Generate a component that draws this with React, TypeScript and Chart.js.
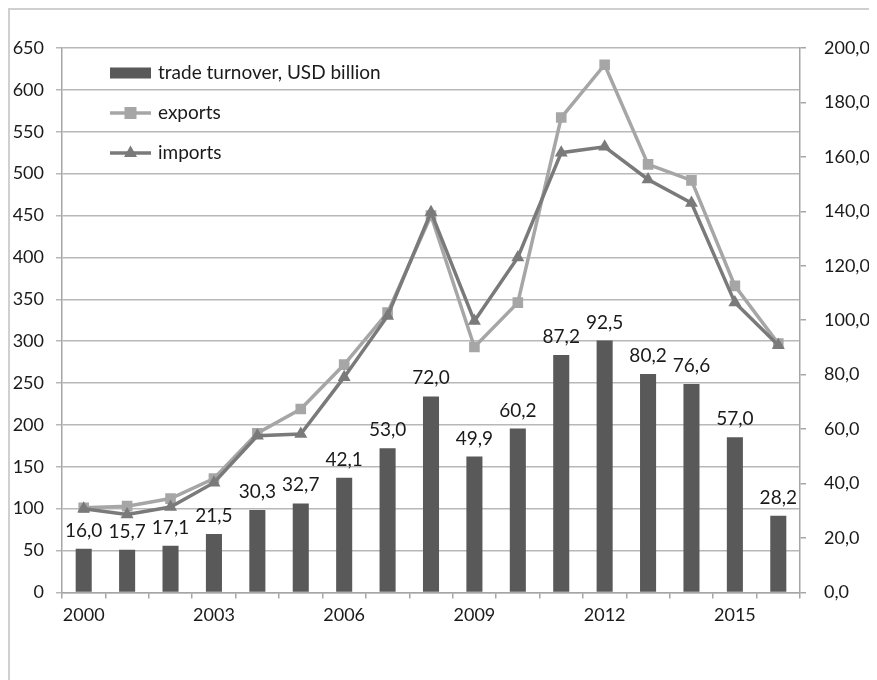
import React, { useEffect, useRef } from "react";
import { Chart, registerables } from "chart.js";

Chart.register(...registerables);

const years = ["2000", "2001", "2002", "2003", "2004", "2005", "2006", "2007", "2008", "2009", "2010", "2011", "2012", "2013", "2014", "2015", "2016"];
const shownYears = ["2000", "2003", "2006", "2009", "2012", "2015"];
const turnover = [16.0, 15.7, 17.1, 21.5, 30.3, 32.7, 42.1, 53.0, 72.0, 49.9, 60.2, 87.2, 92.5, 80.2, 76.6, 57.0, 28.2];
const exportsVals = [101, 103, 112, 136, 190, 219, 272, 334, 450, 293, 346, 567, 630, 511, 492, 366, 297];
const importsVals = [100, 93, 102, 131, 187, 189, 257, 330, 454, 324, 400, 525, 532, 493, 465, 346, 295];
const seriesNames = ["trade turnover, USD billion", "exports", "imports"];

const FONT = "Lato, 'Open Sans', sans-serif";
const TEXT = "#1a1a1a";
const BAR = "#595959";
const EXP = "#a6a6a6";
const IMP = "#7a7a7a";
const AXIS = "#a6a6a6";
const GRID = "#b8b8b8";

const fmt = (v: number) => v.toFixed(1).replace(".", ",");

const barLabels = {
  id: "barLabels",
  afterDatasetsDraw(chart: any) {
    const ctx = chart.ctx;
    const meta = chart.getDatasetMeta(0);
    ctx.save();
    ctx.font = `19px ${FONT}`;
    ctx.fillStyle = TEXT;
    ctx.textAlign = "center";
    ctx.textBaseline = "alphabetic";
    meta.data.forEach((el: any, i: number) => {
      ctx.fillText(fmt(turnover[i]), el.x, el.y - 12);
    });
    ctx.restore();
  },
};

const innerLegend = {
  id: "innerLegend",
  afterDraw(chart: any) {
    const ctx = chart.ctx;
    const a = chart.chartArea;
    const x0 = a.left + 48;
    const y0 = a.top + 25;
    const gap = 40;
    ctx.save();
    ctx.fillStyle = BAR;
    ctx.fillRect(x0, y0 - 5.5, 41, 11);
    ctx.strokeStyle = EXP;
    ctx.lineWidth = 3.5;
    ctx.beginPath();
    ctx.moveTo(x0, y0 + gap);
    ctx.lineTo(x0 + 41, y0 + gap);
    ctx.stroke();
    ctx.fillStyle = EXP;
    ctx.fillRect(x0 + 20.5 - 6, y0 + gap - 6, 12, 12);
    ctx.strokeStyle = IMP;
    ctx.beginPath();
    ctx.moveTo(x0, y0 + 2 * gap);
    ctx.lineTo(x0 + 41, y0 + 2 * gap);
    ctx.stroke();
    ctx.fillStyle = IMP;
    const cx = x0 + 20.5;
    const cy = y0 + 2 * gap;
    ctx.beginPath();
    ctx.moveTo(cx, cy - 7.5);
    ctx.lineTo(cx + 6.5, cy + 4);
    ctx.lineTo(cx - 6.5, cy + 4);
    ctx.closePath();
    ctx.fill();
    ctx.font = `19px ${FONT}`;
    ctx.fillStyle = TEXT;
    ctx.textAlign = "left";
    ctx.textBaseline = "middle";
    seriesNames.forEach((n, i) => {
      ctx.fillText(n, x0 + 48, y0 + i * gap);
    });
    ctx.restore();
  },
};

export default function App() {
  const ref = useRef<HTMLCanvasElement | null>(null);
  useEffect(() => {
    if (!ref.current) return;
    const chart = new Chart(ref.current, {
      type: "bar",
      data: {
        labels: years,
        datasets: [
          {
            type: "bar",
            label: seriesNames[0],
            data: turnover,
            backgroundColor: BAR,
            yAxisID: "yR",
            barPercentage: 0.37,
            categoryPercentage: 1,
            order: 3,
          } as any,
          {
            type: "line",
            label: seriesNames[1],
            data: exportsVals,
            borderColor: EXP,
            backgroundColor: EXP,
            borderWidth: 3.5,
            pointStyle: "rect",
            pointRadius: 7.5,
            pointBorderWidth: 0,
            yAxisID: "y",
            tension: 0,
            order: 2,
          },
          {
            type: "line",
            label: seriesNames[2],
            data: importsVals,
            borderColor: IMP,
            backgroundColor: IMP,
            borderWidth: 3.5,
            pointStyle: "triangle",
            pointRadius: 7.5,
            pointBorderWidth: 0,
            yAxisID: "y",
            tension: 0,
            order: 1,
          },
        ],
      },
      options: {
        animation: false,
        responsive: true,
        maintainAspectRatio: false,
        layout: { padding: { left: 0, top: 38, right: 0, bottom: 48 } },
        plugins: {
          legend: { display: false },
          tooltip: { enabled: false },
        },
        scales: {
          x: {
            offset: true,
            grid: { offset: true, drawOnChartArea: false, tickLength: 6, color: AXIS, lineWidth: 1.5 },
            border: { color: AXIS, width: 1.5 },
            ticks: {
              autoSkip: false,
              maxRotation: 0,
              padding: 6,
              color: TEXT,
              font: { family: FONT, size: 18 },
              callback: (_v: any, i: number) => (shownYears.includes(years[i]) ? years[i] : ""),
            },
          },
          y: {
            position: "left",
            min: 0,
            max: 650,
            afterFit: (s: any) => { s.width = 52; },
            ticks: { stepSize: 50, padding: 12, color: TEXT, font: { family: FONT, size: 18 } },
            grid: { color: GRID, lineWidth: 1.5, tickLength: 6 },
            border: { color: AXIS, width: 1.5 },
          },
          yR: {
            position: "right",
            min: 0,
            max: 200,
            afterFit: (s: any) => { s.width = 72; },
            ticks: { stepSize: 20, padding: 18, color: TEXT, font: { family: FONT, size: 18 }, callback: (v: any) => fmt(Number(v)) },
            grid: { drawOnChartArea: false, color: AXIS, lineWidth: 1.5, tickLength: 6 },
            border: { color: AXIS, width: 1.5 },
          },
        },
      },
      plugins: [barLabels, innerLegend],
    });
    return () => chart.destroy();
  }, []);
  return (
    <div
      style={{
        width: 862,
        height: 670,
        borderTop: "2px solid #d0d0d0",
        borderLeft: "2px solid #d0d0d0",
        borderRight: "2px solid #d0d0d0",
        position: "relative",
        background: "#fff",
      }}
    >
      <canvas ref={ref} />
    </div>
  );
}
